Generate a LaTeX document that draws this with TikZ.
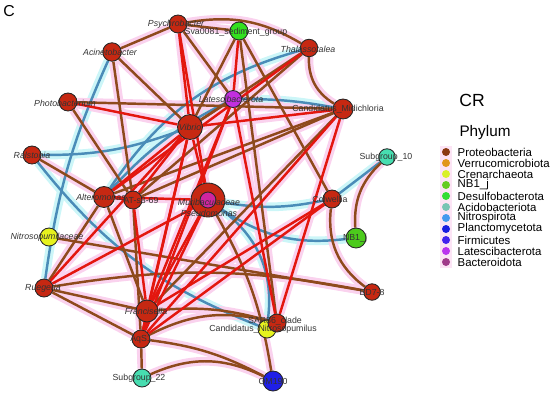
\documentclass[tikz,border=0pt]{standalone}
\usepackage{fontspec}
\setmainfont{Liberation Sans}
\usepackage{xcolor}
\usepackage{tikz}
\usetikzlibrary{positioning, backgrounds}
\definecolor{proteo}{HTML}{C62812}
\definecolor{desulfo}{HTML}{33E01F}
\definecolor{nbone}{HTML}{4CCB1C}
\definecolor{latesci}{HTML}{C22FE0}
\definecolor{acido}{HTML}{47DDB0}
\definecolor{creno}{HTML}{E6F21E}
\definecolor{plancto}{HTML}{1F1FE8}
\definecolor{bactero}{HTML}{D0259E}
\definecolor{linkbrown}{HTML}{8E4A1C}
\definecolor{linkred}{HTML}{E3170F}
\definecolor{linkblue}{HTML}{4A8CB8}
\definecolor{halopink}{HTML}{FAD2EE}
\definecolor{halocyan}{HTML}{CCF6F8}
\definecolor{txtgrey}{HTML}{333333}
\definecolor{legProteo}{HTML}{8B3A12}
\definecolor{legVerruco}{HTML}{E0961A}
\definecolor{legCreno}{HTML}{D8F028}
\definecolor{legNBone}{HTML}{66CC22}
\definecolor{legDesulfo}{HTML}{33DD33}
\definecolor{legAcido}{HTML}{77C4B4}
\definecolor{legNitro}{HTML}{4499EE}
\definecolor{legPlancto}{HTML}{1A1AE0}
\definecolor{legFirmi}{HTML}{4422EE}
\definecolor{legLatesci}{HTML}{BB33EE}
\definecolor{legBactero}{HTML}{A03A8A}
\tikzset{
    taxon/.style={circle, draw=black!85, line width=0.5pt, inner sep=0pt, fill=#1},
    lbl/.style={font=\fontsize{5}{6}\selectfont, text=txtgrey, inner sep=0pt},
    lbli/.style={font=\fontsize{5}{6}\selectfont\itshape, text=txtgrey, inner sep=0pt},
    link b/.style={draw=linkbrown, line width=1.4pt},
    link r/.style={draw=linkred, line width=1.4pt},
    link u/.style={draw=linkblue, line width=1.4pt},
    halo b/.style={draw=halopink, line width=5pt},
    halo r/.style={draw=halopink, line width=5pt},
    halo u/.style={draw=halocyan, line width=5pt},
    legdot/.style={circle, inner sep=0pt, minimum size=0.16cm, fill=#1},
    legtext/.style={font=\fontsize{6.5}{7}\selectfont, inner sep=0pt}
}
\newcommand{\netlinks}{%
    tha/alt/u/-20, aci/rue/u/-8, ral/vib/u/-10, ral/cnit/u/-15, lat/mid/u/5,
    pse/col/u/-10, pse/nb1/u/-20, col/sub10/u/0, pse/cnit/u/30, alt/lat/u/10,
    psy/tha/b/20, psy/sva/b/0, psy/lat/b/0, aci/psy/b/0, aci/vib/b/0, aci/ats/b/0,
    pho/mid/b/0, pho/ats/b/0, sva/col/b/0, sva/vib/b/0, sva/sar/b/0, tha/vib/b/0,
    tha/ats/b/0, tha/mid/b/-30, lat/vib/b/0, mid/alt/b/0, mid/ats/b/0, mid/fra/b/0,
    ral/alt/b/0, alt/fra/b/0, alt/rue/b/0, ats/aqs/b/0, col/bd7/b/-30, nb1/sub10/b/25,
    nit/bd7/b/0, rue/bd7/b/10, rue/aqs/b/0, rue/fra/b/0, fra/sar/b/10, aqs/sar/b/20,
    aqs/sub22/b/0, aqs/om190/b/10, sub22/om190/b/25, pse/om190/b/10,
    psy/vib/r/0, psy/pse/r/0, sva/lat/r/0, vib/alt/r/0, vib/ats/r/0, vib/fra/r/0,
    vib/aqs/r/0, vib/mid/r/0, vib/pse/r/0, lat/fra/r/0, lat/aqs/r/0, lat/sar/r/0,
    mid/sar/r/0, mid/aqs/r/0, pse/alt/r/0, pse/fra/r/0, pse/aqs/r/0, pse/rue/r/0,
    alt/ats/r/0, alt/tha/r/0, ats/fra/r/0, fra/aqs/r/0, aqs/col/r/0, fra/col/r/0,
    rue/vib/r/0, pho/vib/r/0}

\begin{document}
\begin{tikzpicture}[x=0.02cm, y=-0.02cm]
    \useasboundingbox (0,0) rectangle (550,392);
    \node[font=\fontsize{9}{10}\selectfont] (panel) at (9,11) {C};

    % Place nodes
    \node[taxon=proteo, minimum size=0.36cm] (psy) at (178,24) {};
    \node[taxon=desulfo, minimum size=0.36cm] (sva) at (239,31) {};
    \node[taxon=proteo, minimum size=0.35cm] (tha) at (309,48) {};
    \node[taxon=proteo, minimum size=0.37cm] (aci) at (112,52) {};
    \node[taxon=proteo, minimum size=0.36cm] (pho) at (68,102) {};
    \node[taxon=latesci, minimum size=0.34cm] (lat) at (233,99) {};
    \node[taxon=proteo, minimum size=0.4cm] (mid) at (343,109) {};
    \node[taxon=proteo, minimum size=0.5cm] (vib) at (190,127) {};
    \node[taxon=proteo, minimum size=0.36cm] (ral) at (32,155) {};
    \node[taxon=acido, minimum size=0.33cm] (sub10) at (387,157) {};
    \node[taxon=proteo, minimum size=0.42cm] (alt) at (104,197) {};
    \node[taxon=proteo, minimum size=0.36cm] (ats) at (133,200) {};
    \node[taxon=proteo, minimum size=0.68cm] (pse) at (208,200) {};
    \node[taxon=bactero, minimum size=0.32cm] (mur) at (208,200) {};
    \node[taxon=proteo, minimum size=0.36cm] (col) at (332,199) {};
    \node[taxon=nbone, minimum size=0.4cm] (nb1) at (356,238) {};
    \node[taxon=creno, minimum size=0.36cm] (nit) at (49,237) {};
    \node[taxon=proteo, minimum size=0.36cm] (rue) at (44,288) {};
    \node[taxon=proteo, minimum size=0.44cm] (fra) at (147,311) {};
    \node[taxon=proteo, minimum size=0.36cm] (aqs) at (141,339) {};
    \node[taxon=acido, minimum size=0.36cm] (sub22) at (142,378) {};
    \node[taxon=creno, minimum size=0.36cm] (cnit) at (267,329) {};
    \node[taxon=proteo, minimum size=0.36cm] (sar) at (277,323) {};
    \node[taxon=proteo, minimum size=0.33cm] (bd7) at (372,292) {};
    \node[taxon=plancto, minimum size=0.4cm] (om190) at (273,381) {};

    % Draw edges
    \begin{pgfonlayer}{background}
        \foreach \a/\b/\k/\d in \netlinks
            \draw[halo \k] (\a) to[bend left=\d] (\b);
        \foreach \a/\b/\k/\d in \netlinks
            \draw[link \k] (\a) to[bend left=\d] (\b);
    \end{pgfonlayer}

    % Labels
    \node[lbli] (psyL) at (176,24) {Psychrobacter};
    \node[lbl] (svaL) at (236,32) {Sva0081\_sediment\_group};
    \node[lbli] (thaL) at (308,49) {Thalassotalea};
    \node[lbli] (aciL) at (110,52) {Acinetobacter};
    \node[lbli] (phoL) at (65,103) {Photobacterium};
    \node[lbli] (latL) at (231,99) {Latescibacterota};
    \node[lbl] (midL) at (338,109) {Candidatus\_Midichloria};
    \node[lbli] (vibL) at (190,127) {Vibrio};
    \node[lbli] (ralL) at (32,155) {Ralstonia};
    \node[lbl] (sub10L) at (386,157) {Subgroup\_10};
    \node[lbli] (altL) at (101,197) {Alteromonas};
    \node[lbl] (atsL) at (141,200) {AT-s3-69};
    \node[lbli] (murL) at (209,202) {Muribaculaceae};
    \node[lbli] (pseL) at (209,213) {Pseudomonas};
    \node[lbl] (colL) at (330,199) {Colwellia};
    \node[lbl] (nb1L) at (355,238) {NB1\_j};
    \node[lbli] (nitL) at (47,237) {Nitrosopumilaceae};
    \node[lbli] (rueL) at (43,288) {Ruegeria};
    \node[lbli] (fraL) at (146,311) {Francisella};
    \node[lbl] (aqsL) at (141,339) {AqS1};
    \node[lbl] (sub22L) at (139,378) {Subgroup\_22};
    \node[lbl] (sarL) at (275,321) {SAR86\_clade};
    \node[lbl] (cnitL) at (263,329) {Candidatus\_Nitrosopumilus};
    \node[lbl] (bd7L) at (372,292) {BD7-8};
    \node[lbl] (omL) at (273,381) {OM190};

    % Legend
    \node[font=\fontsize{10}{11}\selectfont] (cr) at (472,100) {CR};
    \node[font=\fontsize{8.7}{10}\selectfont] (phylum) at (485,133) {Phylum};
    \fill[halopink!60] (440,146) rectangle (452,268);
    \foreach \phy/\col [count=\i from 0] in {Proteobacteria/legProteo, Verrucomicrobiota/legVerruco,
        Crenarchaeota/legCreno, NB1\_j/legNBone, Desulfobacterota/legDesulfo, Acidobacteriota/legAcido,
        Nitrospirota/legNitro, Planctomycetota/legPlancto, Firmicutes/legFirmi,
        Latescibacterota/legLatesci, Bacteroidota/legBactero} {
        \node[legdot=\col] (dot\i) at (446,{152+11*\i}) {};
        \node[legtext, right=0.14cm of dot\i] (leg\i) {\phy};
    }
\end{tikzpicture}
\end{document}
